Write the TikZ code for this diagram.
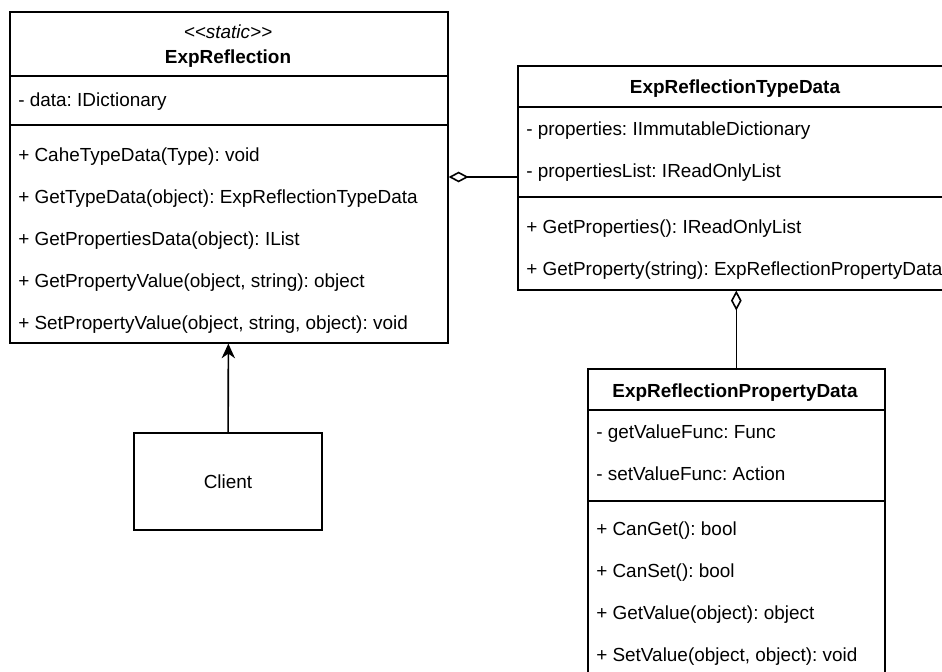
\documentclass[tikz,border=0pt]{standalone}
\usepackage{fontspec}
\setmainfont{Liberation Sans}
\usetikzlibrary{arrows.meta}
\newlength{\pxunit}\setlength{\pxunit}{0.75pt}
\newcommand{\umlfont}{\fontsize{14.2}{16}\selectfont\frenchspacing}
\tikzset{
  umlbox/.style={draw, line width=1.2pt, anchor=north west, inner sep=0pt},
  umlrow/.style={anchor=base west, inner sep=0pt, font=\umlfont},
  umltitle/.style={anchor=base, inner sep=0pt, font=\umlfont\bfseries},
  umlsep/.style={line width=1.2pt},
  aggr/.style={line width=1.2pt, {Diamond[open, length=15pt, width=8pt]}-},
  uses/.style={line width=1.2pt, -{Stealth[length=11pt, width=10pt, inset=3.5pt]}},
}
\begin{document}
\begin{tikzpicture}[x=\pxunit, y=-\pxunit]
  \useasboundingbox (0,0) rectangle (942,671);
  \clip (0,0) rectangle (942,671);
  % static class
  \node[umlbox, minimum width=438\pxunit, minimum height=331\pxunit] (ExpRefl) at (9,11) {};
  \node[umltitle, font=\umlfont\itshape] (ERstereo) at (228,38) {<{}<static>{}>};
  \node[umltitle] (ERname) at (228,63) {ExpReflection};
  \draw[umlsep] (ExpRefl.west |- 0,76) -- (ExpRefl.east |- 0,76);
  \node[umlrow] (ERa1) at (18,106) {- data: IDictionary};
  \draw[umlsep] (ExpRefl.west |- 0,125) -- (ExpRefl.east |- 0,125);
  \foreach \txt [count=\i] in {{+ CaheTypeData(Type): void},
                               {+ GetTypeData(object): ExpReflectionTypeData},
                               {+ GetPropertiesData(object): IList},
                               {+ GetPropertyValue(object, string): object},
                               {+ SetPropertyValue(object, string, object): void}}
    \node[umlrow] (ERm\i) at (18,161+42*\i-42) {\txt};

  % type data
  \node[umlbox, minimum width=436\pxunit, minimum height=224\pxunit] (TypeData) at (517,65) {};
  \node[umltitle] (TDname) at (735,93) {ExpReflectionTypeData};
  \draw[umlsep] (TypeData.west |- 0,107) -- (TypeData.east |- 0,107);
  \node[umlrow] (TDa1) at (526,135) {- properties: IImmutableDictionary};
  \node[umlrow] (TDa2) at (526,177) {- propertiesList: IReadOnlyList};
  \draw[umlsep] (TypeData.west |- 0,197) -- (TypeData.east |- 0,197);
  \node[umlrow] (TDm1) at (526,233) {+ GetProperties(): IReadOnlyList};
  \node[umlrow] (TDm2) at (526,275) {+ GetProperty(string): ExpReflectionPropertyData};

  % property data
  \node[umlbox, minimum width=297\pxunit, minimum height=330\pxunit] (PropData) at (587,368) {};
  \node[umltitle] (PDname) at (735,397) {ExpReflectionPropertyData};
  \draw[umlsep] (PropData.west |- 0,410) -- (PropData.east |- 0,410);
  \node[umlrow] (PDa1) at (596,438) {- getValueFunc: Func};
  \node[umlrow] (PDa2) at (596,480) {- setValueFunc: Action};
  \draw[umlsep] (PropData.west |- 0,501) -- (PropData.east |- 0,501);
  \foreach \txt [count=\i] in {{+ CanGet(): bool},
                               {+ CanSet(): bool},
                               {+ GetValue(object): object},
                               {+ SetValue(object, object): void}}
    \node[umlrow] (PDm\i) at (596,535+42.3*\i-42.3) {\txt};

  % client
  \node[umlbox, anchor=center, minimum width=188\pxunit, minimum height=97\pxunit, font=\umlfont] (Client) at (228,481.5) {Client};

  \draw[aggr] (ExpRefl.east |- 0,177) -- (TypeData.west |- 0,177);
  \draw[aggr] (TypeData.south -| PropData.north) -- (PropData.north);
  \draw[uses] (Client) -- (ExpRefl);
\end{tikzpicture}
\end{document}
